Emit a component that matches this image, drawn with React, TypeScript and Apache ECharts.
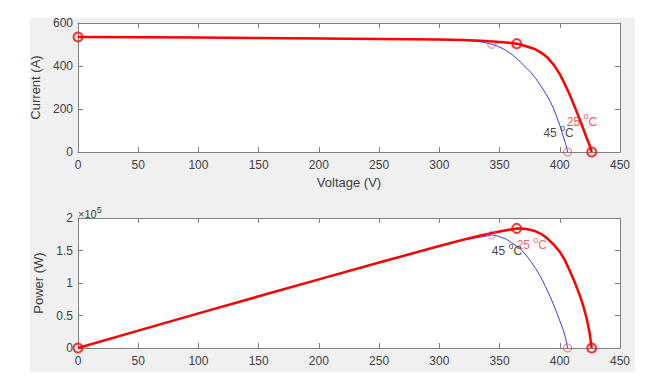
import React, { useEffect, useRef } from "react";
import * as echarts from "echarts";

// ---- Data ----
const V25 = [0, 50, 100, 150, 200, 250, 300, 320, 335, 345, 350, 358, 364.2, 368, 372, 376, 380, 385, 390, 395, 400, 404, 408, 412, 416, 419, 422, 424.5, 426.5];
const I25 = [535, 534, 532, 530, 528, 526, 523, 521, 518, 514, 512, 508, 504, 499, 492, 485, 477, 460, 438, 405, 362, 318, 270, 215, 160, 115, 70, 35, 0];
const P25 = [0, 26700, 53200, 79500, 105600, 131500, 156900, 166700, 173500, 177300, 179200, 182000, 184000, 183800, 183000, 181500, 179500, 175000, 168000, 159000, 148000, 136000, 120000, 103000, 84000, 68000, 48000, 26000, 0];

const V45 = [0, 50, 100, 150, 200, 250, 300, 320, 330, 337, 343.5, 348, 352, 356, 360, 364, 368, 372, 376, 380, 384, 388, 392, 395, 398, 401, 403, 405, 406.5];
const I45 = [536, 535, 533, 531, 529, 526, 522, 520, 515, 510, 501, 493, 483, 470, 455, 436, 415, 393, 370, 342, 310, 275, 236, 200, 155, 110, 70, 35, 0];
const P45 = [0, 26800, 53300, 79700, 105800, 131500, 156600, 165800, 169300, 171500, 174000, 172500, 170000, 167000, 162000, 157000, 151000, 143000, 133000, 122000, 110000, 95000, 79000, 66000, 52000, 37000, 27000, 14000, 0];

const MPP25_IDX = 12;
const MPP45_IDX = 10;

const X_TICKS = [0, 50, 100, 150, 200, 250, 300, 350, 400, 450];
const I_TICKS = [0, 200, 400, 600];
const P_TICKS = [0, 50000, 100000, 150000, 200000];

// annotation anchors (data space)
const ANN_I25 = [405.8, 150];
const ANN_I45 = [386.4, 96];
const ANN_P25 = [364.2, 161000];
const ANN_P45 = [343.5, 151800];

const FONT = "Liberation Sans, Arial, Helvetica, sans-serif";
const AXIS_COLOR = "#808080";
const LABEL_COLOR = "#404040";

function zip(a: number[], b: number[]) {
  return a.map((v, i) => [v, b[i]]);
}

export default function App() {
  const ref = useRef<HTMLDivElement>(null);
  useEffect(() => {
    if (!ref.current) return;
    const chart = echarts.init(ref.current, null, { renderer: "svg" });

    const xAxisBase = (gridIndex: number, bottom: boolean, name?: string) => ({
      type: "value",
      gridIndex,
      position: bottom ? "bottom" : "top",
      min: X_TICKS[0],
      max: X_TICKS[X_TICKS.length - 1],
      interval: 50,
      name: name,
      nameLocation: "middle",
      nameGap: 24,
      nameTextStyle: { color: LABEL_COLOR, fontSize: 13, fontFamily: FONT },
      axisLine: { show: true, onZero: false, lineStyle: { color: AXIS_COLOR, width: 1 } },
      axisTick: { show: true, inside: true, length: 5, lineStyle: { color: AXIS_COLOR } },
      axisLabel: bottom
        ? { show: true, color: LABEL_COLOR, fontSize: 12, fontFamily: FONT, margin: 7 }
        : { show: false },
      splitLine: { show: false },
    });

    const yAxisBase = (gridIndex: number, left: boolean, ticks: number[], fmt?: (v: number) => string, name?: string, gap = 25) => ({
      type: "value",
      gridIndex,
      position: left ? "left" : "right",
      min: ticks[0],
      max: ticks[ticks.length - 1],
      interval: ticks[1] - ticks[0],
      name: name,
      nameLocation: "middle",
      nameGap: gap,
      nameTextStyle: { color: LABEL_COLOR, fontSize: 13, fontFamily: FONT },
      axisLine: { show: true, onZero: false, lineStyle: { color: AXIS_COLOR, width: 1 } },
      axisTick: { show: true, inside: true, length: 5, lineStyle: { color: AXIS_COLOR } },
      axisLabel: left
        ? { show: true, color: LABEL_COLOR, fontSize: 12, fontFamily: FONT, margin: 5, formatter: fmt }
        : { show: false },
      splitLine: { show: false },
    });

    const annot = (xi: number, yi: number, pt: number[], txt: string, color: string) => ({
      type: "scatter",
      xAxisIndex: xi,
      yAxisIndex: yi,
      symbolSize: 0,
      silent: true,
      z: 20,
      data: [pt],
      label: {
        show: true,
        position: "right",
        distance: 0,
        formatter: `{n|${txt} }{s|o}{n|C}`,
        color,
        rich: {
          n: { fontSize: 12, fontFamily: FONT, lineHeight: 16, verticalAlign: "bottom", color },
          s: { fontSize: 9, fontFamily: FONT, lineHeight: 16, verticalAlign: "top", color },
        },
      },
    });

    const marker = (xi: number, yi: number, pts: number[][], color: string, size: number, bw: number) => ({
      type: "scatter",
      xAxisIndex: xi,
      yAxisIndex: yi,
      symbol: "circle",
      symbolSize: size,
      silent: true,
      z: 15,
      itemStyle: { color: "rgba(0,0,0,0)", borderColor: color, borderWidth: bw },
      data: pts,
    });

    const line = (xi: number, yi: number, data: number[][], color: string, width: number, z: number) => ({
      type: "line",
      xAxisIndex: xi,
      yAxisIndex: yi,
      data,
      showSymbol: false,
      smooth: false,
      z,
      lineStyle: { color, width, join: "round" },
      silent: true,
    });

    const last25 = V25.length - 1;
    const last45 = V45.length - 1;

    chart.setOption({
      animation: false,
      backgroundColor: "#ffffff",
      graphic: [
        {
          type: "rect",
          shape: { x: 30, y: 18, width: 605, height: 354 },
          style: { fill: "#f0f0f0" },
          z: -10,
          silent: true,
        },
        {
          type: "text",
          x: 78,
          y: 205,
          style: {
            text: "{n|×10}{s|5}",
            fill: LABEL_COLOR,
            rich: {
              n: { fontSize: 11, fontFamily: FONT, lineHeight: 14, verticalAlign: "bottom", fill: LABEL_COLOR },
              s: { fontSize: 9, fontFamily: FONT, lineHeight: 14, verticalAlign: "top", fill: LABEL_COLOR },
            },
          },
          z: 10,
        },
      ],
      grid: [
        { left: 78, top: 23, width: 542, height: 129, show: true, backgroundColor: "#ffffff", borderWidth: 0, z: 0 },
        { left: 78, top: 218, width: 542, height: 130, show: true, backgroundColor: "#ffffff", borderWidth: 0, z: 0 },
      ],
      xAxis: [
        xAxisBase(0, true, "Voltage (V)"),
        xAxisBase(0, false),
        xAxisBase(1, true),
        xAxisBase(1, false),
      ],
      yAxis: [
        yAxisBase(0, true, I_TICKS, undefined, "Current (A)", 25),
        yAxisBase(0, false, I_TICKS),
        yAxisBase(1, true, P_TICKS, (v: number) => String(v / 100000), "Power (W)", 20),
        yAxisBase(1, false, P_TICKS),
      ],
      series: [
        // Current
        line(0, 0, zip(V45, I45), "#3a3af0", 1, 2),
        line(0, 0, zip(V25, I25), "#ff0000", 2.5, 3),
        marker(0, 0, [[V25[0], I25[0]], [V25[MPP25_IDX], I25[MPP25_IDX]], [V25[last25], I25[last25]]], "#ff0000", 9, 2),
        marker(0, 0, [[V45[MPP45_IDX], I45[MPP45_IDX]], [V45[last45], I45[last45]]], "#f0404c", 8, 1),
        annot(0, 0, ANN_I25, "25", "#ff2020"),
        annot(0, 0, ANN_I45, "45", "#111111"),
        // Power
        line(2, 2, zip(V45, P45), "#3a3af0", 1, 2),
        line(2, 2, zip(V25, P25), "#ff0000", 2.5, 3),
        marker(2, 2, [[V25[0], P25[0]], [V25[MPP25_IDX], P25[MPP25_IDX]], [V25[last25], P25[last25]]], "#ff0000", 9, 2),
        marker(2, 2, [[V45[MPP45_IDX], P45[MPP45_IDX]]], "#c070f0", 8, 1),
        marker(2, 2, [[V45[last45], P45[last45]]], "#f0404c", 8, 1),
        annot(2, 2, ANN_P45, "45", "#111111"),
        annot(2, 2, ANN_P25, "25", "#e04040"),
      ],
    });
    return () => chart.dispose();
  }, []);
  return (
    <div
      ref={ref}
      style={{ position: "absolute", left: 0, top: 0, width: 670, height: 387 }}
    />
  );
}
